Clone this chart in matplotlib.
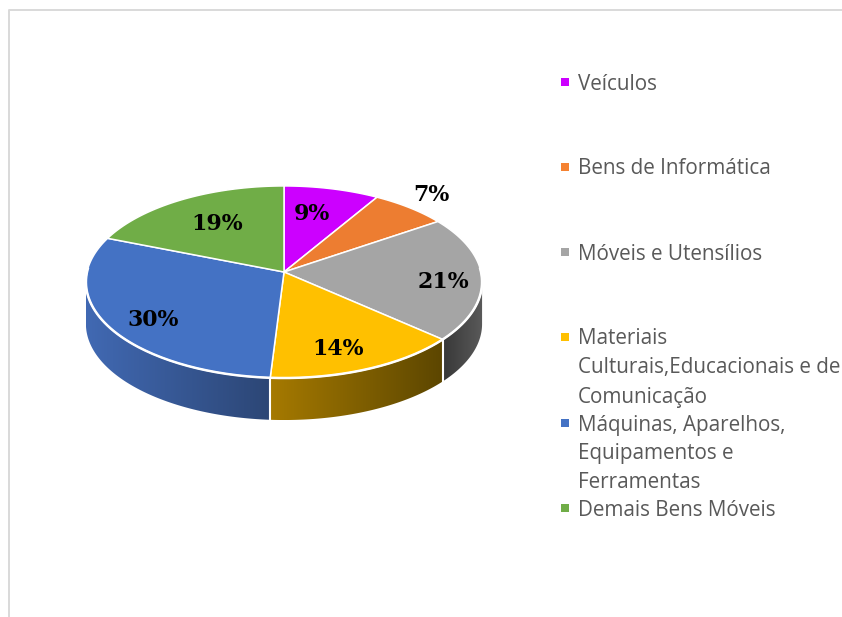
import matplotlib
matplotlib.use('Agg')
import matplotlib.pyplot as plt
from matplotlib.colors import LinearSegmentedColormap
from matplotlib.patches import Polygon
import numpy as np

# Data
categories = ['Veículos', 'Bens de Informática', 'Móveis e Utensílios',
              'Materiais\nCulturais,Educacionais e de\nComunicação',
              'Máquinas, Aparelhos,\nEquipamentos e\nFerramentas',
              'Demais Bens Móveis']
values = [8.6, 6.9, 21.0, 14.5, 30.0, 19.0]
colors = ['#CC00FF', '#ED7D31', '#A5A5A5', '#FFC000', '#4472C4', '#70AD47']
legend_colors = ['#CC00FF', '#F58231', '#A5A5A5', '#FFC000', '#4472C4', '#70AD47']
# side shading, colour at left and right end of each slice
side_colors = [None, None, ('#383838', '#5A5A5A'), ('#A67A00', '#5C4600'),
               ('#4169B3', '#2C4675'), None]

# Pie geometry in pixels, with a bit of perspective
cx, cy = 284, 272
rx, ry = 197, 95
persp = 0.104
depth = 42

label_pos = [(312, 214), (431, 195), (443, 282), (338, 349), (153, 320), (217, 224)]
legend_y = [84, 169, 254, 339, 425, 510]


def rim(theta):
    t = np.radians(theta)
    u, v = np.sin(t), np.cos(t)
    d = 1 + persp * v
    return cx + rx * u / d, cy - ry * v / d


fig = plt.figure(figsize=(8.42, 6.17), dpi=100)
ax = fig.add_axes([0, 0, 1, 1])
ax.axis('off')

# Outer frame
ax.plot([8.5, 8.5, 842], [617, 9.5, 9.5], color='#D9D9D9', linewidth=1.4)

edges = np.cumsum([0] + values) * 3.6
side_lo, side_hi = 96, 264

# Side walls, a horizontal gradient clipped to each wall
for i in range(len(values)):
    if side_colors[i] is None:
        continue
    lo, hi = max(edges[i], side_lo), min(edges[i + 1], side_hi)
    xs, ys = rim(np.linspace(lo, hi, 120))
    wall = Polygon(np.column_stack([np.r_[xs, xs[::-1]], np.r_[ys, ys[::-1] + depth]]),
                   transform=ax.transData, facecolor='none', edgecolor='none')
    ax.add_patch(wall)
    cmap = LinearSegmentedColormap.from_list('side', side_colors[i])
    im = ax.imshow(np.linspace(0, 1, 256).reshape(1, -1), cmap=cmap, aspect='auto',
                   extent=[xs.min(), xs.max(), ys.max() + depth, ys.min()], zorder=2)
    im.set_clip_path(wall)

ax.set_xlim(0, 842)
ax.set_ylim(617, 0)

# White lines between the side walls
for e in edges[1:-1]:
    if side_lo < e < side_hi:
        x, y = rim(e)
        ax.plot([x, x], [y, y + depth], color='white', linewidth=1.5, zorder=3)

# Top face
for i in range(len(values)):
    th = np.linspace(edges[i], edges[i + 1], 100)
    xs, ys = rim(th)
    ax.fill(np.r_[cx, xs], np.r_[cy, ys], facecolor=colors[i], edgecolor='white',
            linewidth=1.1, joinstyle='round', zorder=4)

# Brighter rim along the front
th = np.linspace(side_lo - 8, side_hi + 8, 200)
xs, ys = rim(th)
ax.plot(xs, ys, color='white', linewidth=1.8, zorder=5)

# Percent labels
for val, (x, y) in zip(values, label_pos):
    ax.text(x, y, f'{val:.0f}%', ha='center', va='center', fontsize=15.8,
            fontweight='bold', family='DejaVu Serif', color='black', zorder=6)

# Legend
line_h = 29
for name, col, y in zip(categories, legend_colors, legend_y):
    ax.plot(565, y - 2, marker='s', markersize=5.8, color=col, markeredgewidth=0, zorder=6)
    for k, part in enumerate(name.split('\n')):
        ax.text(578, y + k * line_h, part, ha='left', va='center', fontsize=14.9,
                family='Open Sans', color='#595959', zorder=6)

fig.savefig('out.png', dpi=100)
